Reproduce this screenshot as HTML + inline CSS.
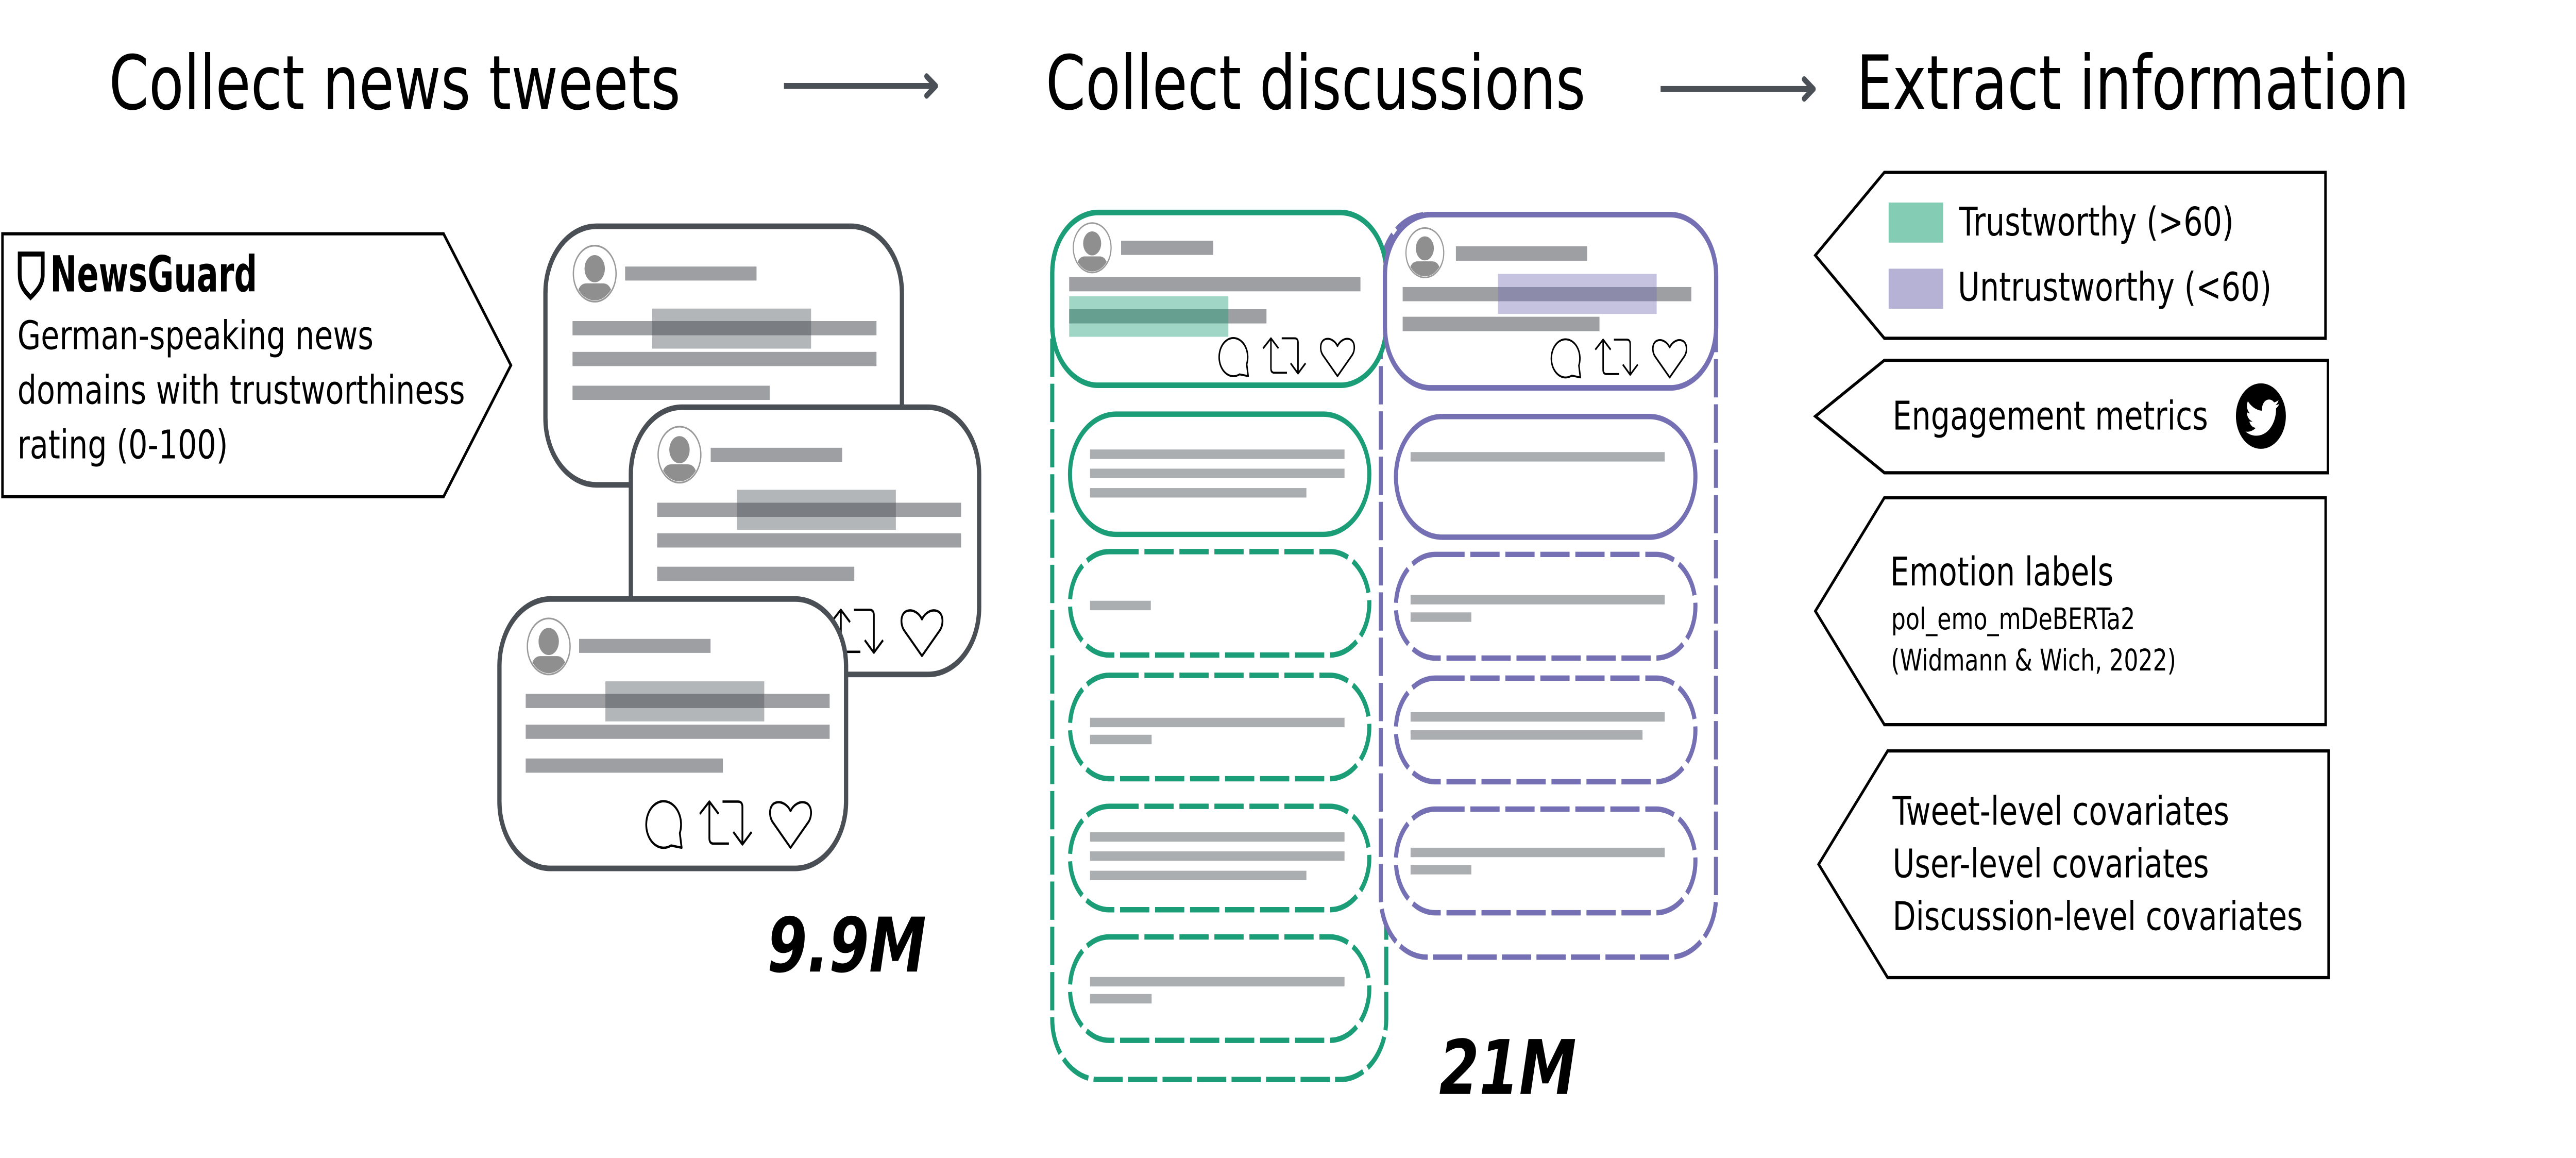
<!DOCTYPE html>
<html><head><meta charset="utf-8">
<style>html,body{margin:0;padding:0;background:#fff;overflow:hidden;width:100%;height:100%}svg{display:block;width:100vw;height:100vh}</style>
</head>
<body>
<svg xmlns="http://www.w3.org/2000/svg" viewBox="0 0 1568 537.41" preserveAspectRatio="none" font-family="'DejaVu Sans', 'Liberation Sans', sans-serif">
<defs>
 <clipPath id="avc"><circle r="12.4"/></clipPath>
 <g id="av">
  <circle r="13" fill="#fff" stroke="#9a9a9a" stroke-width="0.8"/>
  <g clip-path="url(#avc)">
   <ellipse cx="0" cy="-2.3" rx="6.2" ry="6.3" fill="#8f8f8f"/>
   <path d="M-11,14 L-10.2,8 Q-8.8,4.5 -5,4.5 H5 Q8.8,4.5 10.2,8 L11,14 Z" fill="#8f8f8f"/>
  </g>
 </g>
 <g id="ic" fill="none" stroke="#000" stroke-width="1.1" stroke-linejoin="round">
  <path d="M15.5,20.4 A10.6,10.8 0 1 1 20.8,14.65 L21.9,21.4 Z" fill="#fff"/>
  <path d="M33,5.7 L38.8,0 L44.4,5.7 M38.8,0 V17 Q38.8,19.5 41.3,19.5 H50.7"/>
  <path d="M46.8,0 H56.3 Q58.9,0 58.9,2.5 V19.9 M53.4,14.1 L58.9,19.9 L64.5,14.1"/>
  <path d="M88.2,21.4 L77.3,9.5 C74.8,6.5 75.2,1.8 78.8,0.6 C82.5,-0.5 86.5,1.5 88.2,4.4 C89.9,1.5 93.9,-0.5 97.6,0.6 C101.2,1.8 101.6,6.5 99.1,9.5 Z" fill="#fff"/>
 </g>
</defs>

<!-- Titles -->
<g font-size="34.8" fill="#000">
 <text x="66.3" y="50.6">Collect news tweets</text>
 <text x="636.5" y="50.6">Collect discussions</text>
 <text x="1130" y="50.6">Extract information</text>
</g>

<!-- Arrows -->
<g stroke="#4b5057" stroke-width="2.8" fill="none" stroke-linecap="round" stroke-linejoin="round">
 <line x1="477.2" y1="39.9" x2="568.5" y2="39.9" stroke-linecap="butt"/>
 <path d="M564,35.4 L569.6,39.9 L564,44.4"/>
 <line x1="1010.8" y1="41.3" x2="1102.5" y2="41.3" stroke-linecap="butt"/>
 <path d="M1098.2,36.8 L1103.8,41.3 L1098.2,45.8"/>
</g>

<!-- NewsGuard box -->
<path d="M1.5,108.5 H270 L311,169.5 L270,230.5 H1.5 Z" fill="#fff" stroke="#000" stroke-width="1.5"/>
<path d="M12,117.9 H26 V127.5 C26,132 23,134.6 18.6,138 C14.2,134.6 12,132 12,127.5 Z" fill="none" stroke="#000" stroke-width="2.3"/>
<text x="30.5" y="135.2" font-size="23" font-weight="bold" textLength="126" lengthAdjust="spacingAndGlyphs">NewsGuard</text>
<g font-size="18.4" fill="#000">
 <text x="10.6" y="162">German-speaking news</text>
 <text x="10.6" y="187.4">domains with trustworthiness</text>
 <text x="10.6" y="212.8">rating (0-100)</text>
</g>

<!-- News tweet cards -->
<g transform="translate(332,105)">
 <rect x="0" y="0" width="217" height="120" rx="31" fill="#fff" stroke="#4a4f55" stroke-width="2.6"/>
 <use href="#av" transform="translate(30,22)"/>
 <g fill="#9d9fa3"><rect x="48.5" y="18.7" width="80" height="6.5"/><rect x="16.5" y="44" width="185" height="6.6"/><rect x="16.5" y="58.3" width="185" height="6.6"/><rect x="16.5" y="74" width="120" height="6.6"/></g>
 <rect x="65" y="38.2" width="96.7" height="18.6" fill="#4b5057" opacity="0.42"/>
 <use href="#ic" transform="translate(89,94)"/>
</g>
<g transform="translate(384,189)">
 <rect x="0" y="0" width="212" height="124" rx="31" fill="#fff" stroke="#4a4f55" stroke-width="2.6"/>
 <use href="#av" transform="translate(29.6,22)"/>
 <g fill="#9d9fa3"><rect x="48.6" y="18.8" width="80" height="6.5"/><rect x="16" y="44.3" width="185" height="6.6"/><rect x="16" y="58.5" width="185" height="6.6"/><rect x="16" y="74" width="120" height="6.6"/></g>
 <rect x="64.6" y="38.3" width="96.7" height="18.6" fill="#4b5057" opacity="0.42"/>
 <use href="#ic" transform="translate(89,94)"/>
</g>
<g transform="translate(304,278)">
 <rect x="0" y="0" width="211" height="125" rx="31" fill="#fff" stroke="#4a4f55" stroke-width="2.6"/>
 <use href="#av" transform="translate(30,22)"/>
 <g fill="#9d9fa3"><rect x="48.5" y="18.5" width="80" height="6.5"/><rect x="16" y="44" width="185" height="6.6"/><rect x="16" y="58.3" width="185" height="6.6"/><rect x="16" y="74" width="120" height="6.6"/></g>
 <rect x="64.5" y="38.2" width="96.7" height="18.6" fill="#4b5057" opacity="0.42"/>
 <use href="#ic" transform="translate(89,94)"/>
</g>

<text x="467" y="450.9" font-size="35" font-weight="bold" font-style="italic" fill="#000">9.9M</text>

<!-- Discussion containers -->
<rect x="640.5" y="98.6" width="203.3" height="402.4" rx="28" fill="#fff" stroke="#1b9e77" stroke-width="2.5" stroke-dasharray="17.8 3.2"/>
<rect x="840.5" y="99.6" width="204" height="344.6" rx="28" fill="#fff" stroke="#7570b3" stroke-width="2.5" stroke-dasharray="17.8 3.2"/>

<!-- Green root card -->
<rect x="640.5" y="98.6" width="203.3" height="80.2" rx="28" fill="#fff" stroke="#1b9e77" stroke-width="2.6"/>
<use href="#av" transform="translate(664.8,115) scale(0.885)"/>
<g fill="#9d9fa3"><rect x="682.4" y="111.7" width="56.1" height="6.6"/><rect x="650.8" y="128.6" width="177.3" height="6.6"/><rect x="650.8" y="143.5" width="120.1" height="6.6"/></g>
<rect x="650.8" y="137.5" width="96.9" height="18.8" fill="#1b9e77" opacity="0.42"/>
<use href="#ic" transform="translate(741.8,157) scale(0.82)"/>

<!-- Purple root card -->
<rect x="843" y="99.6" width="201.6" height="80.4" rx="28" fill="#fff" stroke="#7570b3" stroke-width="2.6"/>
<use href="#av" transform="translate(867.3,117.3) scale(0.885)"/>
<g fill="#9d9fa3"><rect x="886.2" y="114.3" width="79.9" height="6.7"/><rect x="853.8" y="133.2" width="175.7" height="6.6"/><rect x="853.8" y="147" width="119.8" height="6.7"/></g>
<rect x="911.8" y="127.1" width="96.6" height="18.6" fill="#7570b3" opacity="0.42"/>
<use href="#ic" transform="translate(944,157.6) scale(0.82)"/>

<!-- Green replies -->
<g fill="#fff" stroke="#1b9e77" stroke-width="2.5">
 <rect x="651.3" y="192.2" width="182.2" height="55.8" rx="28"/>
 <rect x="651.3" y="256" width="182.2" height="48" rx="24" stroke-dasharray="17.8 3.5"/>
 <rect x="651.3" y="313.4" width="182.2" height="48" rx="24" stroke-dasharray="17.8 3.5"/>
 <rect x="651.3" y="374.2" width="182.2" height="48" rx="24" stroke-dasharray="17.8 3.5"/>
 <rect x="651.3" y="434.8" width="182.2" height="48" rx="24" stroke-dasharray="17.8 3.5"/>
</g>
<g fill="#abaeb0">
 <rect x="663.5" y="208.6" width="154.9" height="4.4"/><rect x="663.5" y="217.5" width="154.9" height="4.4"/><rect x="663.5" y="226.5" width="131.7" height="4.4"/>
 <rect x="663.5" y="278.8" width="37" height="4.4"/>
 <rect x="663.5" y="333.1" width="154.9" height="4.4"/><rect x="663.5" y="341" width="37.5" height="4.4"/>
 <rect x="663.5" y="386.2" width="154.9" height="4.4"/><rect x="663.5" y="395.1" width="154.9" height="4.4"/><rect x="663.5" y="404.1" width="131.7" height="4.4"/>
 <rect x="663.5" y="453.4" width="154.9" height="4.4"/><rect x="663.5" y="461.3" width="37.5" height="4.4"/>
</g>

<!-- Purple replies -->
<g fill="#fff" stroke="#7570b3" stroke-width="2.5">
 <rect x="849.7" y="193.3" width="182.3" height="56" rx="28"/>
 <rect x="849.7" y="257.3" width="182.3" height="48.1" rx="24" stroke-dasharray="17.8 3.5"/>
 <rect x="849.7" y="314.7" width="182.3" height="48.1" rx="24" stroke-dasharray="17.8 3.5"/>
 <rect x="849.7" y="375.5" width="182.3" height="48.1" rx="24" stroke-dasharray="17.8 3.5"/>
</g>
<g fill="#abaeb0">
 <rect x="858.6" y="209.8" width="154.7" height="4.4"/>
 <rect x="858.6" y="276.1" width="154.7" height="4.4"/><rect x="858.6" y="284.2" width="37" height="4.4"/>
 <rect x="858.6" y="330.5" width="154.7" height="4.4"/><rect x="858.6" y="338.9" width="141.2" height="4.4"/>
 <rect x="858.6" y="393.4" width="154.7" height="4.4"/><rect x="858.6" y="401.4" width="37" height="4.4"/>
</g>

<text x="876" y="507.7" font-size="35" font-weight="bold" font-style="italic" fill="#000">21M</text>

<!-- Right boxes -->
<g fill="#fff" stroke="#000" stroke-width="1.5">
 <path d="M1105,118.5 L1147,80 H1415.5 V157 H1147 Z"/>
 <path d="M1105,193.2 L1147,167.2 H1417 V219.4 H1147 Z"/>
 <path d="M1105,283.6 L1147,231 H1415.6 V336.3 H1147 Z"/>
 <path d="M1107,401.1 L1149,348.5 H1417.4 V453.7 H1149 Z"/>
</g>
<rect x="1149.6" y="94" width="33.2" height="18.6" fill="#85ccb5"/>
<rect x="1149.6" y="124.7" width="33.2" height="18.6" fill="#b5b2d6"/>
<g font-size="18.4" fill="#000">
 <text x="1192.5" y="109.3">Trustworthy (&gt;60)</text>
 <text x="1191.7" y="139.5">Untrustworthy (&lt;60)</text>
 <text x="1152" y="199.3">Engagement metrics</text>
 <text x="1150.5" y="271.7">Emotion labels</text>
 <text x="1152" y="382.8">Tweet-level covariates</text>
 <text x="1152" y="407.2">User-level covariates</text>
 <text x="1152" y="431.6">Discussion-level covariates</text>
</g>
<g font-size="13.85" fill="#000">
 <text x="1151.2" y="292">pol_emo_mDeBERTa2</text>
 <text x="1151" y="311.1">(Widmann &amp; Wich, 2022)</text>
</g>

<!-- Twitter icon -->
<circle cx="1376.2" cy="193.1" r="15.2" fill="#000"/>
<path transform="translate(1366,182.9) scale(0.91)" fill="#fff" d="M23.643 4.937c-.835.37-1.732.62-2.675.733.962-.576 1.7-1.49 2.048-2.578-.9.534-1.897.922-2.958 1.13-.85-.904-2.060-1.470-3.400-1.470-2.572 0-4.658 2.086-4.658 4.660 0 .364.042.718.120 1.060-3.873-.195-7.304-2.050-9.602-4.868-.4.690-.630 1.490-.630 2.342 0 1.616.823 3.043 2.072 3.878-.764-.025-1.482-.234-2.110-.583v.060c0 2.257 1.605 4.140 3.737 4.568-.392.106-.803.162-1.227.162-.3 0-.593-.028-.877-.082.593 1.850 2.313 3.198 4.352 3.234-1.595 1.250-3.604 1.995-5.786 1.995-.376 0-.747-.022-1.112-.065 2.062 1.323 4.510 2.093 7.140 2.093 8.570 0 13.255-7.098 13.255-13.254 0-.2-.005-.402-.014-.602.910-.658 1.700-1.477 2.323-2.410z"/>
</svg>
</body></html>
